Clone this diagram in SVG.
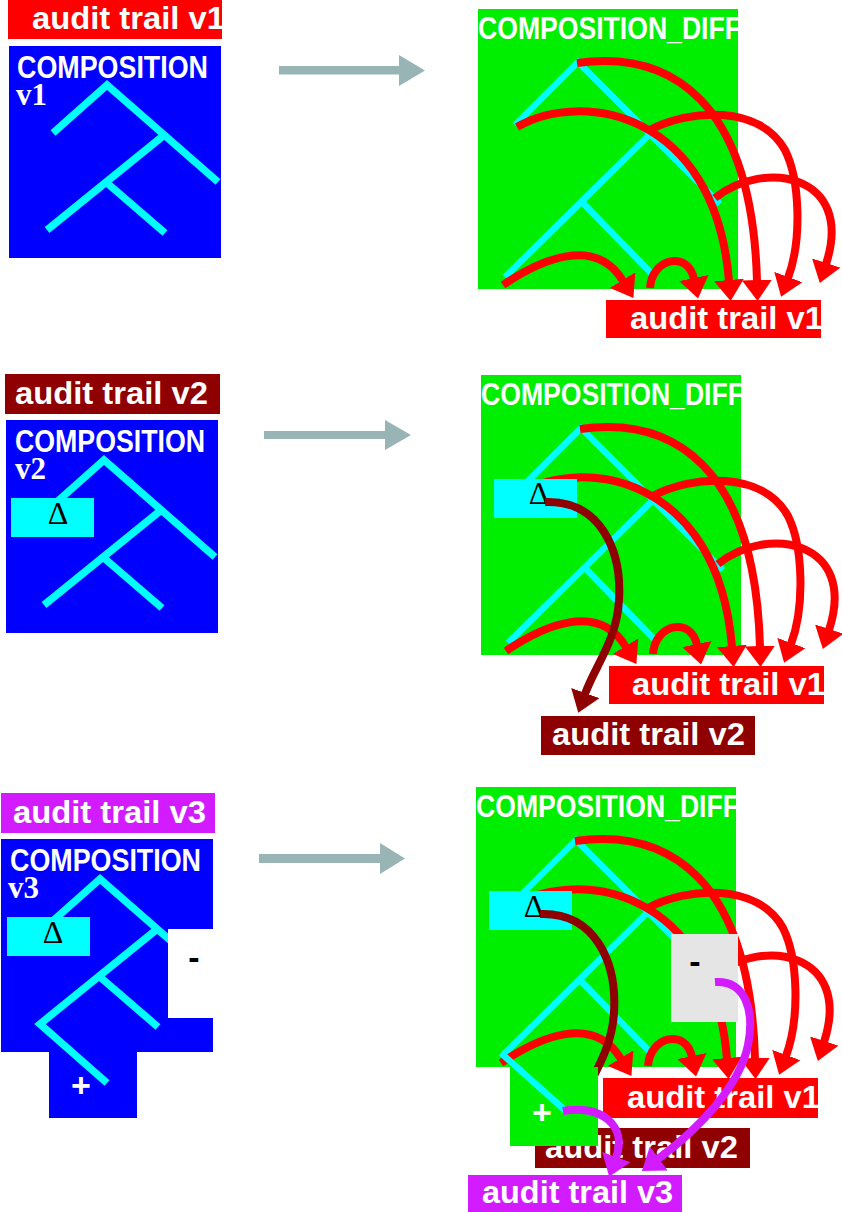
<svg xmlns="http://www.w3.org/2000/svg" width="842" height="1212" viewBox="0 0 842 1212">
<style>
.lbl{font-family:"Liberation Sans",Arial,sans-serif;font-weight:bold;font-size:32px;fill:#fff}
.ttl{font-family:"Liberation Sans",Arial,sans-serif;font-weight:bold;font-size:31px;fill:#fff}
.ver{font-family:"Liberation Serif","Times New Roman",serif;font-weight:bold;font-size:31px;fill:#fff}
.delta{font-family:"Liberation Serif","Times New Roman",serif;font-size:32px;fill:#000;text-anchor:middle}
.sym{font-family:"Liberation Sans",Arial,sans-serif;font-weight:bold;font-size:34px;text-anchor:middle}
.treeL{fill:none;stroke:#00ffff;stroke-width:7.5;stroke-linecap:butt;stroke-linejoin:miter}
.treeR{fill:none;stroke:#00ffff;stroke-width:6.5;stroke-linecap:butt;stroke-linejoin:miter}
.blue{fill:#0000ff}
.green{fill:#00ee00}
.cy{fill:#00ffff}
.red{fill:#ff0000}
.dred{fill:#8f0000}
.mag{fill:#d21cff}
.arcR{fill:none;stroke:#ff0000;stroke-width:8;marker-end:url(#ahR)}
.arcD{fill:none;stroke:#8f0000;stroke-width:8;marker-end:url(#ahD)}
.arcM{fill:none;stroke:#d21cff;stroke-width:8;marker-end:url(#ahM)}
.gray{fill:#99b4b4}
</style>
<defs>
<marker id="ahR" viewBox="0 0 21 30" refX="1" refY="15" markerWidth="21" markerHeight="30" markerUnits="userSpaceOnUse" orient="auto"><path d="M0,0 L21,15 L0,30 Z" fill="#ff0000"/></marker>
<marker id="ahD" viewBox="0 0 21 30" refX="1" refY="15" markerWidth="21" markerHeight="30" markerUnits="userSpaceOnUse" orient="auto"><path d="M0,0 L21,15 L0,30 Z" fill="#8f0000"/></marker>
<marker id="ahM" viewBox="0 0 21 30" refX="1" refY="15" markerWidth="21" markerHeight="30" markerUnits="userSpaceOnUse" orient="auto"><path d="M0,0 L21,15 L0,30 Z" fill="#d21cff"/></marker>
</defs>
<rect width="842" height="1212" fill="#fff"/>

<!-- ===== Row 1 ===== -->
<g id="label-v1-left">
<rect class="red" x="8" y="0" width="214" height="39"/>
<text class="lbl" x="32" y="29" textLength="193" lengthAdjust="spacingAndGlyphs">audit trail v1</text>
</g>
<g id="composition-v1">
<rect class="blue" x="9" y="46" width="212" height="212"/>
<text class="ttl" x="17" y="78" textLength="191" lengthAdjust="spacingAndGlyphs">COMPOSITION</text>
<text class="ver" x="16" y="105">v1</text>
<polyline class="treeL" points="53,133 107,85 218,182"/>
<line class="treeL" x1="163" y1="136" x2="47" y2="230"/>
<line class="treeL" x1="107" y1="183" x2="165" y2="233"/>
</g>

<g id="diff-1">
<rect class="green" x="478" y="9" width="260" height="280"/>
<text class="ttl" x="478" y="39" textLength="263" lengthAdjust="spacingAndGlyphs">COMPOSITION_DIFF</text>
<polyline class="treeR" points="515,125 578,62 720,204"/>
<line class="treeR" x1="650" y1="134" x2="505" y2="277"/>
<line class="treeR" x1="582" y1="202" x2="653" y2="275"/>
</g>
<g id="connectors-1">
<path class="gray" d="M279,66 H399 V55 L425,70.5 L399,86 V74.5 H279 Z"/>
<path class="arcR" d="M503,285 C540,260 595,235 623,281"/>
<path class="arcR" d="M650,288 C652,258 688,250 694,279"/>
<path class="arcR" d="M577,63 C670,50 752,100 757,281"/>
<path class="arcR" d="M517,127 C580,90 715,110 729,281"/>
<path class="arcR" d="M648,131 C690,108 760,105 785,150 C800,180 802,240 788,278"/>
<path class="arcR" d="M715,198 C765,158 855,175 826,264"/>
</g>
<g id="label-v1-right-1">
<rect class="red" x="606" y="300" width="215" height="38"/>
<text class="lbl" x="630" y="329" textLength="193" lengthAdjust="spacingAndGlyphs">audit trail v1</text>
</g>

<!-- ===== Row 2 ===== -->
<g id="label-v2-left">
<rect class="dred" x="5" y="374" width="215" height="40"/>
<text class="lbl" x="15" y="404" textLength="193" lengthAdjust="spacingAndGlyphs">audit trail v2</text>
</g>
<g id="composition-v2">
<rect class="blue" x="6" y="420" width="212" height="213"/>
<text class="ttl" x="15" y="452" textLength="190" lengthAdjust="spacingAndGlyphs">COMPOSITION</text>
<text class="ver" x="15" y="479">v2</text>
<g transform="translate(-3,375)">
<polyline class="treeL" points="53,133 107,85 218,182"/>
<line class="treeL" x1="163" y1="136" x2="47" y2="230"/>
<line class="treeL" x1="107" y1="183" x2="165" y2="233"/>
</g>
<rect class="cy" x="11" y="498" width="83" height="39"/>
<text class="delta" x="58" y="524">Δ</text>
</g>

<g id="diff-2" transform="translate(3,366)">
<rect class="green" x="478" y="9" width="260" height="280"/>
<text class="ttl" x="478" y="39" textLength="263" lengthAdjust="spacingAndGlyphs">COMPOSITION_DIFF</text>
<polyline class="treeR" points="515,125 578,62 720,204"/>
<line class="treeR" x1="650" y1="134" x2="505" y2="277"/>
<line class="treeR" x1="582" y1="202" x2="653" y2="275"/>
</g>
<g id="connectors-2" transform="translate(3,366)">
<path class="arcR" d="M503,285 C540,260 595,235 623,281"/>
<path class="arcR" d="M650,288 C652,258 688,250 694,279"/>
<path class="arcR" d="M577,63 C670,50 752,100 757,281"/>
<path class="arcR" d="M517,127 C580,90 715,110 729,281"/>
<path class="arcR" d="M648,131 C690,108 760,105 785,150 C800,180 802,240 788,278"/>
<path class="arcR" d="M715,198 C765,158 855,175 826,264"/>
</g>
<g id="delta-2" transform="translate(3,366)">
<rect class="cy" x="491" y="113" width="83" height="39"/>
<text class="delta" x="536" y="138">Δ</text>
</g>
<g id="label-v1-right-2" transform="translate(3,366)">
<rect class="red" x="606" y="300" width="215" height="38"/>
<text class="lbl" x="629" y="329" textLength="193" lengthAdjust="spacingAndGlyphs">audit trail v1</text>
</g>
<g id="label-v2-right-2" transform="translate(3,366)">
<rect class="dred" x="538" y="350" width="214" height="39"/>
<text class="lbl" x="549" y="379" textLength="193" lengthAdjust="spacingAndGlyphs">audit trail v2</text>
</g>
<g id="connectors-2b">
<path class="gray" d="M264,431 H385 V420 L411,435 L385,450 V439 H264 Z"/>
<path class="arcD" transform="translate(3,366)" d="M542,136 C597,134 619,184 616,234 C614,274 592,300 582,328"/>
</g>

<!-- ===== Row 3 ===== -->
<g id="label-v3-left">
<rect class="mag" x="1" y="793" width="214" height="40"/>
<text class="lbl" x="13" y="823" textLength="193" lengthAdjust="spacingAndGlyphs">audit trail v3</text>
</g>
<g id="composition-v3">
<rect class="blue" x="1" y="839" width="212" height="213"/>
<rect class="blue" x="49" y="1050" width="88" height="68"/>
<text class="ttl" x="10" y="871" textLength="191" lengthAdjust="spacingAndGlyphs">COMPOSITION</text>
<text class="ver" x="8" y="898">v3</text>
<g transform="translate(-7,794)">
<polyline class="treeL" points="53,133 107,85 218,182"/>
<polyline class="treeL" points="163,136 47,230 114,289"/>
<line class="treeL" x1="107" y1="183" x2="165" y2="233"/>
</g>
<rect class="cy" x="7" y="917" width="83" height="39"/>
<text class="delta" x="53" y="943">Δ</text>
<rect fill="#fff" x="168" y="929" width="45" height="89"/>
<text class="sym" x="194" y="969" fill="#000">-</text>
<text class="sym" x="81" y="1097" fill="#fff">+</text>
</g>

<g id="diff-3" transform="translate(-2,778)">
<rect class="green" x="478" y="9" width="260" height="280"/>
<text class="ttl" x="478" y="39" textLength="263" lengthAdjust="spacingAndGlyphs">COMPOSITION_DIFF</text>
<polyline class="treeR" points="515,125 578,62 720,204"/>
<line class="treeR" x1="650" y1="134" x2="505" y2="277"/>
<line class="treeR" x1="582" y1="202" x2="653" y2="275"/>
</g>
<g id="connectors-3" transform="translate(-2,778)">
<path class="arcR" d="M503,285 C540,260 595,235 623,281"/>
<path class="arcR" d="M650,288 C652,258 688,250 694,279"/>
<path class="arcR" d="M577,63 C670,50 752,100 757,281"/>
<path class="arcR" d="M517,127 C580,90 715,110 729,281"/>
<path class="arcR" d="M648,131 C690,108 760,105 785,150 C800,180 802,240 788,278"/>
<path class="arcR" d="M715,198 C765,158 855,175 826,264"/>
</g>
<g id="delta-3" transform="translate(-2,778)">
<rect class="cy" x="491" y="113" width="83" height="39"/>
<text class="delta" x="536" y="139">Δ</text>
</g>
<g id="minus-3" transform="translate(-2,778)">
<rect fill="#e5e5e5" x="673" y="156" width="67" height="88"/>
<text class="sym" x="697" y="195" fill="#000">-</text>
</g>
<g id="label-v1-right-3" transform="translate(-2,778)">
<rect class="red" x="605" y="300" width="215" height="40"/>
<text class="lbl" x="629" y="330" textLength="193" lengthAdjust="spacingAndGlyphs">audit trail v1</text>
</g>
<g id="label-v2-right-3" transform="translate(-2,778)">
<rect class="dred" x="537" y="350" width="215" height="40"/>
<text class="lbl" x="547" y="380" textLength="193" lengthAdjust="spacingAndGlyphs">audit trail v2</text>
</g>
<g id="connectors-3b">
<path class="gray" d="M259,854 H380 V843 L405,858.5 L380,874 V863 H259 Z"/>
<path class="arcD" transform="translate(-2,778)" d="M542,136 C597,134 619,184 616,234 C614,274 592,300 582,328"/>
</g>
<g id="plus-3" transform="translate(-2,778)">
<rect class="green" x="512" y="289" width="88" height="79"/>
<line class="treeR" x1="503" y1="275" x2="569" y2="334"/>
<text class="sym" x="544" y="346" fill="#fff">+</text>
</g>
<g id="label-v3-right">
<rect class="mag" x="468" y="1175" width="214" height="37"/>
<text class="lbl" x="482" y="1203" textLength="191" lengthAdjust="spacingAndGlyphs">audit trail v3</text>
</g>
<g id="connectors-3c">
<path class="arcM" d="M563,1111 C600,1104 628,1125 616,1158"/>
<path class="arcM" d="M715,982 C745,980 755,1010 748,1045 C740,1085 700,1128 658,1159"/>
</g>
</svg>
